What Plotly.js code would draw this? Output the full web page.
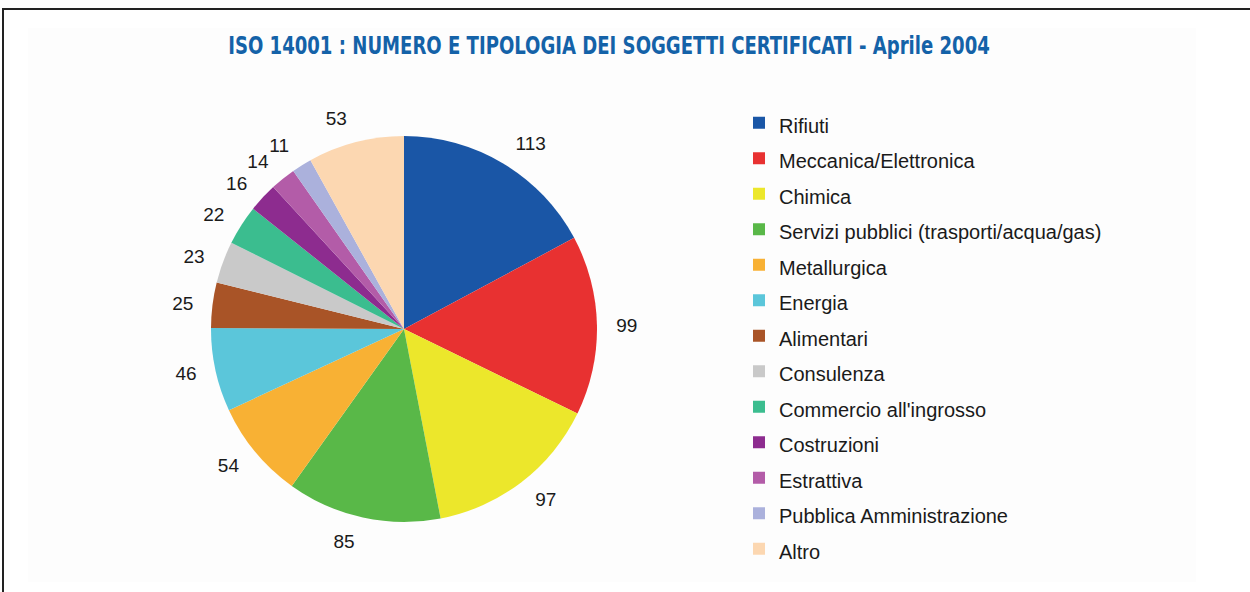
<!DOCTYPE html>
<html>
<head>
<meta charset="utf-8">
<script src="https://cdn.plot.ly/plotly-3.0.1.min.js"></script>
<style>
  html, body { margin: 0; padding: 0; background: #ffffff; }
  #wrap { position: relative; width: 1250px; height: 592px; overflow: hidden; }
  #panel { position: absolute; left: 28px; top: 28px; width: 1168px; height: 554px; background: #fdfdfd; }
  #frame { position: absolute; left: 2px; top: 8px; width: 1260px; height: 600px; border-left: 2px solid #222; border-top: 2px solid #222; }
  #chart { position: absolute; left: 0; top: 0; width: 1250px; height: 592px; }
</style>
</head>
<body>
<div id="wrap">
  <div id="panel"></div>
  <div id="chart"></div>
  <div id="frame"></div>
</div>
<script>
const categories = [
  "Rifiuti",
  "Meccanica/Elettronica",
  "Chimica",
  "Servizi pubblici (trasporti/acqua/gas)",
  "Metallurgica",
  "Energia",
  "Alimentari",
  "Consulenza",
  "Commercio all'ingrosso",
  "Costruzioni",
  "Estrattiva",
  "Pubblica Amministrazione",
  "Altro"
];
const values = [113, 99, 97, 85, 54, 46, 25, 23, 22, 16, 14, 11, 53];
const colors = [
  "#1a56a6", "#e83131", "#ece72b", "#59b848", "#f8b134", "#5bc6da",
  "#a95427", "#c9c9c9", "#3bbd8f", "#8d2c8f", "#b35ca8", "#abb1dc", "#fcd7b1"
];
const titleText = "ISO 14001 : NUMERO E TIPOLOGIA DEI SOGGETTI CERTIFICATI - Aprile 2004";

const W = 1250, H = 592;
const cx = 404, cy = 329, r = 193, rLabel = 207;

const legendLabels = categories.map(c => '<span style="font-size:20px">' + c + '</span>');

function domainFor(rad) {
  return {
    x: [(cx - rad) / W, (cx + rad) / W],
    y: [(H - cy - rad) / H, (H - cy + rad) / H]
  };
}

const pieTrace = {
  type: "pie",
  labels: legendLabels,
  values: values,
  sort: false,
  direction: "clockwise",
  rotation: 0,
  marker: { colors: colors, line: { width: 0 } },
  textinfo: "none",
  automargin: false,
  hoverinfo: "label+value",
  domain: domainFor(r)
};

// two transparent rings carry the outside value labels (alternating slices, so no label is displaced)
function labelRing(parity) {
  return {
    type: "pie",
    labels: legendLabels,
    values: values,
    sort: false,
    direction: "clockwise",
    rotation: 0,
    marker: { colors: categories.map(() => "rgba(0,0,0,0)"), line: { width: 0 } },
    textinfo: "value",
    textposition: categories.map((c, i) => (i % 2 === parity ? "outside" : "none")),
    outsidetextfont: { family: "Liberation Sans, Arial, sans-serif", size: 19, color: "#1a1a1a" },
    automargin: false,
    showlegend: false,
    hoverinfo: "skip",
    domain: domainFor(rLabel)
  };
}

const layout = {
  width: W,
  height: H,
  margin: { l: 0, r: 0, t: 0, b: 0 },
  paper_bgcolor: "rgba(0,0,0,0)",
  plot_bgcolor: "rgba(0,0,0,0)",
  title: {
    text: "<b>" + titleText + "</b>",
    font: { family: "DejaVu Sans Condensed, DejaVu Sans, sans-serif", size: 24, color: "#1462a8" },
    x: 609 / W,
    xanchor: "center",
    y: 1 - 46 / H,
    yanchor: "middle"
  },
  showlegend: true,
  legend: {
    x: 739 / W,
    xanchor: "left",
    y: 1 - 100 / H,
    yanchor: "top",
    bgcolor: "rgba(0,0,0,0)",
    font: { family: "Liberation Sans, Arial, sans-serif", size: 25, color: "#1a1a1a" },
    traceorder: "normal"
  }
};

Plotly.newPlot("chart", [pieTrace, labelRing(0), labelRing(1)], layout, { displayModeBar: false, staticPlot: true })
  .then(() => {
    // narrow the title horizontally to mimic the condensed typeface of the original
    const t = document.querySelector("#chart .gtitle");
    if (t) {
      const bb = t.getBBox();
      const targetWidth = 762;
      const sx = targetWidth / bb.width;
      const c = bb.x + bb.width / 2;
      const prev = t.getAttribute("transform") || "";
      t.setAttribute("transform", prev + " translate(" + c + ",0) scale(" + sx + ",1) translate(" + (-c) + ",0)");
    }
  });
</script>
</body>
</html>
